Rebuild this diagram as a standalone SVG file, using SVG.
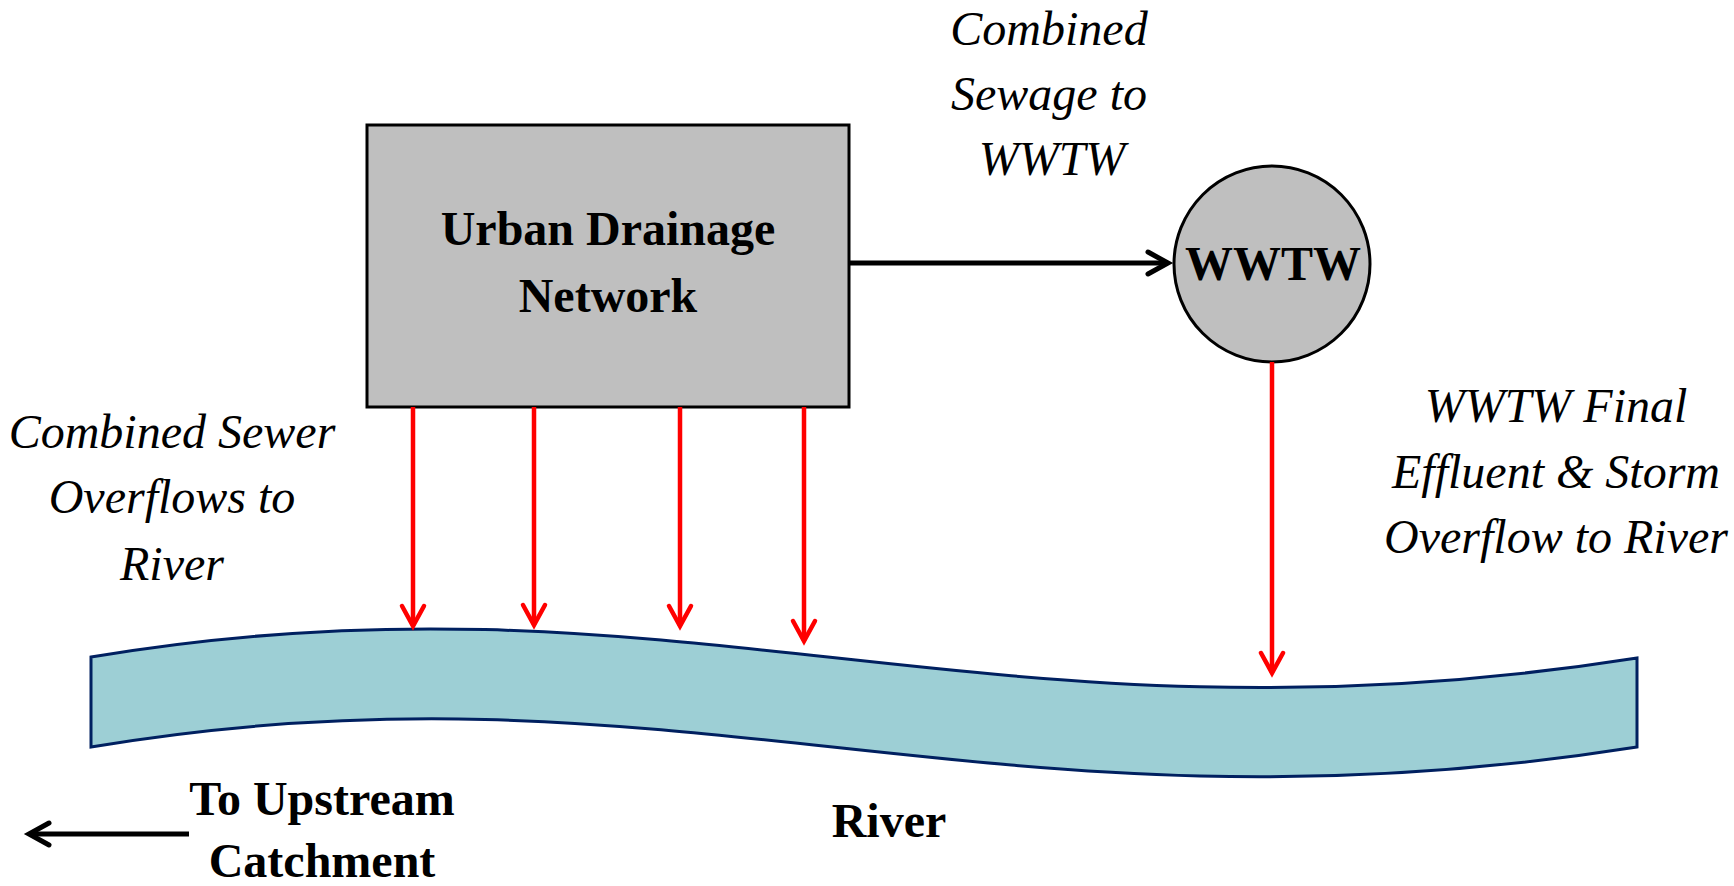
<svg xmlns="http://www.w3.org/2000/svg" width="1734" height="886" viewBox="0 0 1734 886">
<style>
.lbl{font-family:"Liberation Serif","Times New Roman",serif;font-size:48px;font-style:italic;fill:#000;text-anchor:middle}
.bold{font-family:"Liberation Serif","Times New Roman",serif;font-size:48px;font-weight:bold;fill:#000;text-anchor:middle}
.box{fill:#BFBFBF;stroke:#000;stroke-width:3}
.red{stroke:#FF0000;stroke-width:4.5;fill:none}
.blk{stroke:#000;stroke-width:5;fill:none}
</style>
<defs>
<marker id="ar" markerUnits="userSpaceOnUse" markerWidth="40" markerHeight="40" refX="0" refY="0" orient="auto" overflow="visible">
<path d="M-20,-11 L0,0 L-20,11" fill="none" stroke="#FF0000" stroke-width="4.5" stroke-linecap="round" stroke-linejoin="miter"/>
</marker>
<marker id="ab" markerUnits="userSpaceOnUse" markerWidth="40" markerHeight="40" refX="0" refY="0" orient="auto" overflow="visible">
<path d="M-20,-11 L0,0 L-20,11" fill="none" stroke="#000" stroke-width="5" stroke-linecap="round" stroke-linejoin="miter"/>
</marker>
</defs>
<rect width="1734" height="886" fill="#fff"/>
<g id="river">
<path d="M91,657 C680,558 990,760 1637,658 L1637,747 C990,849 680,648 91,747 Z" fill="#9DCFD5" stroke="#002060" stroke-width="3"/>
<text class="bold" x="889" y="837">River</text>
</g>
<g id="urban-drainage">
<rect class="box" x="367" y="125" width="482" height="282"/>
<text class="bold" x="608" y="245">Urban Drainage</text>
<text class="bold" x="608" y="312">Network</text>
</g>
<g id="wwtw">
<circle class="box" cx="1272" cy="264" r="98"/>
<text class="bold" x="1273" y="280">WWTW</text>
</g>
<g id="connectors">
<line class="blk" x1="849" y1="263" x2="1168" y2="263" marker-end="url(#ab)"/>
<line class="red" x1="413" y1="407" x2="413" y2="626" marker-end="url(#ar)"/>
<line class="red" x1="534" y1="407" x2="534" y2="625" marker-end="url(#ar)"/>
<line class="red" x1="680" y1="407" x2="680" y2="626" marker-end="url(#ar)"/>
<line class="red" x1="804" y1="407" x2="804" y2="641" marker-end="url(#ar)"/>
<line class="red" x1="1272" y1="362" x2="1272" y2="673" marker-end="url(#ar)"/>
<line class="blk" x1="189" y1="834" x2="29" y2="834" marker-end="url(#ab)"/>
</g>
<g id="labels">
<text class="lbl" x="1049" y="45">Combined</text>
<text class="lbl" x="1049" y="110">Sewage to</text>
<text class="lbl" x="1052" y="175">WWTW</text>
<text class="lbl" x="172" y="448">Combined Sewer</text>
<text class="lbl" x="172" y="513">Overflows to</text>
<text class="lbl" x="172" y="580">River</text>
<text class="lbl" x="1556" y="422">WWTW Final</text>
<text class="lbl" x="1556" y="488">Effluent &amp; Storm</text>
<text class="lbl" x="1556" y="553">Overflow to River</text>
<text class="bold" x="322" y="815">To Upstream</text>
<text class="bold" x="322" y="877">Catchment</text>
</g>
</svg>
